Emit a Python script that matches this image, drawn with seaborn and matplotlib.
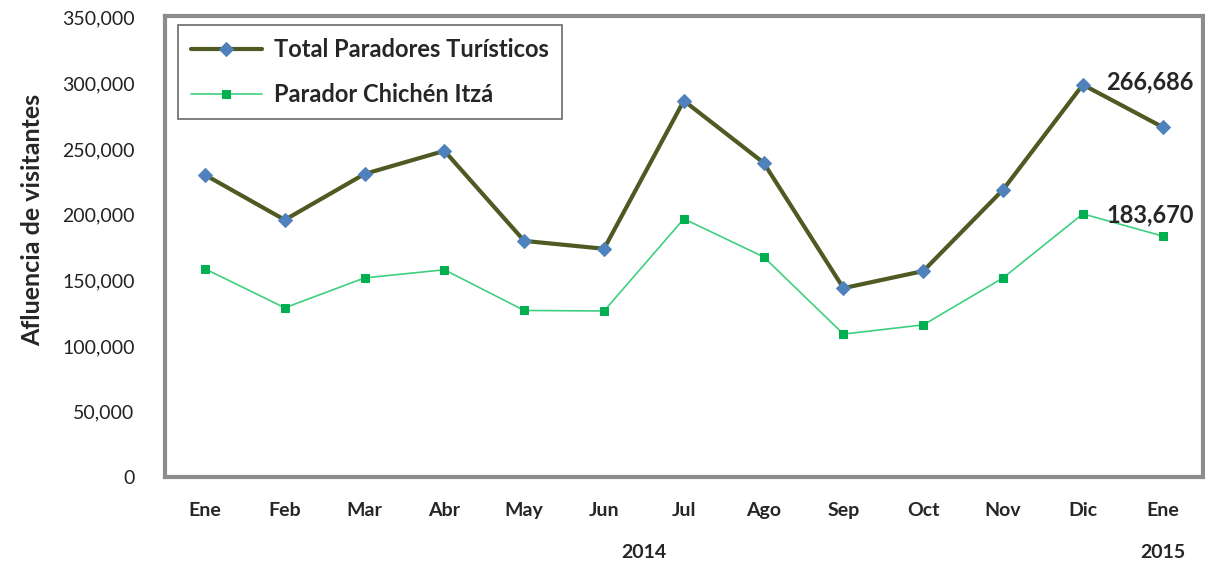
import numpy as np
import matplotlib.pyplot as plt
import pandas as pd
import seaborn as sns

######################################### DATA #########################################

months = ['Ene', 'Feb', 'Mar', 'Abr', 'May', 'Jun', 'Jul', 'Ago', 'Sep', 'Oct', 'Nov', 'Dic', 'Ene']
total_paradores = [230300, 196000, 231000, 248600, 180000, 174000, 286800, 239500,
                   144000, 157000, 219000, 299000, 266686]
parador_chichen = [158700, 129000, 151800, 158000, 127000, 126600, 196800, 167800,
                   109000, 116000, 151800, 200600, 183670]
y_ticks = [0, 50000, 100000, 150000, 200000, 250000, 300000, 350000]

df = pd.DataFrame({'pos': np.arange(len(months)),
                   'total': total_paradores,
                   'chichen': parador_chichen})

######################################### PLOT #########################################

sns.set_style('white')
plt.rcParams['font.family'] = ['Lato', 'DejaVu Sans']

fig = plt.figure(figsize=(12.05, 5.64), dpi=100)
ax = fig.add_axes([0.137, 0.154, 0.861, 0.818])

sns.lineplot(data=df, x='pos', y='total', ax=ax, color='#4f5a22', linewidth=3,
             marker='D', markersize=7, markerfacecolor='#4f81bd', markeredgecolor='#4f81bd',
             label='Total Paradores Turísticos')
sns.lineplot(data=df, x='pos', y='chichen', ax=ax, color='#3fcf80', linewidth=1.2,
             marker='s', markersize=6, markerfacecolor='#00b050', markeredgecolor='#00b050',
             label='Parador Chichén Itzá')

ax.set_xlim(-0.5, len(months) - 0.5)
ax.set_ylim(0, 351500)
ax.set_yticks(y_ticks)
ax.set_yticklabels([f'{v:,}' for v in y_ticks], fontsize=14, color='#222222')
ax.set_xticks(df['pos'])
ax.set_xticklabels(months, fontsize=14, fontweight='bold')
ax.tick_params(axis='both', length=0)
ax.tick_params(axis='x', pad=18)
ax.tick_params(axis='y', pad=22)
ax.set_xlabel('')
ax.set_ylabel('Afluencia de visitantes', fontsize=18, fontweight='bold')
ax.yaxis.set_label_coords(-0.117, 0.557)

for s in ax.spines.values():
    s.set_color('#8c8c8c')
    s.set_linewidth(3)

# year labels below months
ax.text(5.5, -0.163, '2014', transform=ax.get_xaxis_transform(), ha='center', va='center',
        fontsize=14, fontweight='bold')
ax.text(12, -0.163, '2015', transform=ax.get_xaxis_transform(), ha='center', va='center',
        fontsize=14, fontweight='bold')

# end value labels
ax.annotate(f'{total_paradores[-1]:,}', (11, total_paradores[11]), xytext=(17, 2),
            textcoords='offset points', fontsize=17, fontweight='bold', va='center')
ax.annotate(f'{parador_chichen[-1]:,}', (11, parador_chichen[11]), xytext=(17, -1),
            textcoords='offset points', fontsize=17, fontweight='bold', va='center')

leg = ax.legend(loc='upper left', bbox_to_anchor=(0.0125, 0.98), borderaxespad=0,
                fontsize=17, frameon=True, fancybox=False, handlelength=3.0,
                borderpad=0.55, labelspacing=0.95, handletextpad=0.5)
leg.get_frame().set_edgecolor('#444444')
leg.get_frame().set_linewidth(1.2)
for t in leg.get_texts():
    t.set_fontweight('bold')

plt.savefig('out.png', dpi=100)
